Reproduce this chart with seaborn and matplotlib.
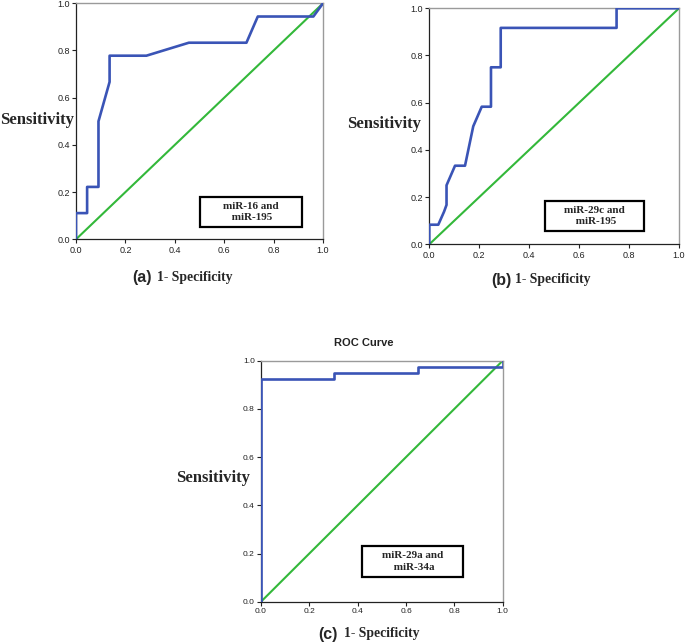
import numpy as np
import pandas as pd
import matplotlib
matplotlib.use("Agg")
import matplotlib.pyplot as plt
import seaborn as sns
from matplotlib.patches import Rectangle

sns.set_style("white")

# ROC curve points (1 - specificity, sensitivity)
fpr_a = [0.0, 0.0, 0.045, 0.045, 0.091, 0.091, 0.136, 0.136, 0.285, 0.457, 0.69, 0.736, 0.961, 1.0]
tpr_a = [0.0, 0.111, 0.111, 0.222, 0.222, 0.5, 0.667, 0.778, 0.778, 0.833, 0.833, 0.944, 0.944, 1.0]

fpr_b = [0.0, 0.0, 0.036, 0.059, 0.069, 0.069, 0.103, 0.143, 0.176, 0.21, 0.247, 0.247, 0.286, 0.286, 0.75, 0.75, 1.0]
tpr_b = [0.0, 0.083, 0.083, 0.138, 0.167, 0.25, 0.333, 0.333, 0.5, 0.583, 0.583, 0.75, 0.75, 0.917, 0.917, 1.0, 1.0]

fpr_c = [0.0, 0.0, 0.3, 0.3, 0.65, 0.65, 1.0, 1.0]
tpr_c = [0.0, 0.925, 0.925, 0.95, 0.95, 0.975, 0.975, 1.0]

ref_line = [0.0, 1.0]
ticks = [0.0, 0.2, 0.4, 0.6, 0.8, 1.0]
tick_labels = ["0.0", "0.2", "0.4", "0.6", "0.8", "1.0"]

box_texts = ["miR-16 and\n miR-195", "miR-29c and\n miR-195", "miR-29a and\n miR-34a"]
panel_tags = ["(a)", "(b)", "(c)"]

BLUE = "#3a54b6"
GREEN = "#33b83a"
SERIF = "Liberation Serif"
SANS = "Liberation Sans"

W, H = 685, 643
fig = plt.figure(figsize=(W / 100, H / 100), dpi=100)


def px_axes(l, t, r, b):
    return fig.add_axes([l / W, 1 - b / H, (r - l) / W, (b - t) / H])


ax_a = px_axes(76, 3.3, 323, 239.3)
ax_b = px_axes(429.3, 8.3, 679, 244.3)
ax_c = px_axes(261, 360.7, 502.7, 601.7)

panels = [
    (ax_a, fpr_a, tpr_a, (0.502, 0.052, 0.413, 0.127), 6.5),
    (ax_b, fpr_b, tpr_b, (0.463, 0.056, 0.397, 0.127), 6.5),
    (ax_c, fpr_c, tpr_c, (0.418, 0.102, 0.418, 0.129), 6),
]

for i, (ax, fx, ty, box, tfs) in enumerate(panels):
    sns.lineplot(x=ref_line, y=ref_line, ax=ax, color=GREEN, lw=1.5,
                 sort=False, estimator=None, zorder=2)
    sns.lineplot(x=fx, y=ty, ax=ax, color=BLUE, lw=1.9,
                 sort=False, estimator=None, zorder=3)
    ax.set_xlim(0, 1)
    ax.set_ylim(0, 1)
    ax.set_xticks(ticks)
    ax.set_yticks(ticks)
    ax.set_xticklabels(tick_labels, fontsize=tfs, family=SANS, color="#222222")
    ax.set_yticklabels(tick_labels, fontsize=tfs, family=SANS, color="#222222")
    ax.tick_params(direction="out", length=3, width=0.8, pad=1.5, color="#222222",
                   bottom=True, left=True)
    ax.set_xlabel("")
    ax.set_ylabel("")
    for s in ["left", "bottom"]:
        ax.spines[s].set_color("#222222")
        ax.spines[s].set_linewidth(0.9)
    for s in ["top", "right"]:
        ax.spines[s].set_color("#9a9a9a")
        ax.spines[s].set_linewidth(1.0)
    bx, by, bw, bh = box
    ax.add_patch(Rectangle((bx, by), bw, bh, transform=ax.transAxes, fill=True,
                           facecolor="white", edgecolor="black", lw=1.6, zorder=4))
    ax.text(bx + bw / 2, by + bh / 2, box_texts[i], transform=ax.transAxes,
            ha="center", va="center", fontsize=8, fontweight="bold",
            family=SERIF, zorder=5, linespacing=1.35)

# y labels (horizontal)
for (cx, cy) in [(37, 120), (384, 124), (213, 478)]:
    fig.text(cx / W, 1 - cy / H, "Sensitivity", ha="center", va="center",
             fontsize=12, fontweight="bold", family=SERIF)

# x labels with panel tags
for tag, (tx, sx, yy) in zip(panel_tags, [(132, 157, 277), (491, 515, 280), (318, 344, 634)]):
    fig.text(tx / W, 1 - yy / H, tag, ha="left", va="center",
             fontsize=11.5, fontweight="bold", family=SANS)
    fig.text(sx / W, 1 - yy / H, "1- Specificity", ha="left", va="center",
             fontsize=9.8, fontweight="bold", family=SERIF)

fig.text(364 / W, 1 - 343 / H, "ROC Curve", ha="center", va="center",
         fontsize=8, fontweight="bold", family=SANS, color="#222222")

fig.savefig("out.png", dpi=100, facecolor="white")
